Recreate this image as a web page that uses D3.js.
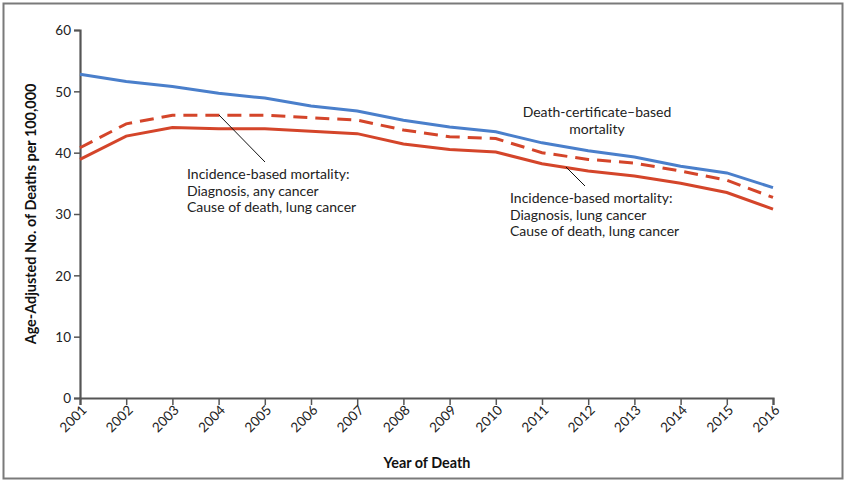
<!DOCTYPE html>
<html><head><meta charset="utf-8">
<script src="https://cdn.jsdelivr.net/npm/d3@7"></script>
<style>
html,body{margin:0;padding:0;background:#fff;}
svg{display:block;font-family:Lato,"Open Sans",sans-serif;}
</style></head>
<body>
<svg id="c" width="849" height="483"></svg>
<script>
const years = [2001,2002,2003,2004,2005,2006,2007,2008,2009,2010,2011,2012,2013,2014,2015,2016];
const deathCert = [52.8,51.6,50.8,49.7,48.9,47.6,46.8,45.3,44.2,43.4,41.6,40.3,39.3,37.8,36.7,34.3];
const ibmAnyCancer = [40.8,44.7,46.1,46.1,46.1,45.7,45.3,43.7,42.6,42.3,40.0,38.9,38.3,37.0,35.5,32.7];
const ibmLungCancer = [38.9,42.7,44.1,43.9,43.9,43.5,43.1,41.4,40.5,40.1,38.2,37.0,36.2,35.0,33.5,30.8];
const yTicks = [0,10,20,30,40,50,60];

const svg = d3.select("#c");
svg.append("rect").attr("x",3.5).attr("y",3.5).attr("width",839).attr("height",475)
  .attr("fill","none").attr("stroke","#7a7a7a").attr("stroke-width",2);

const x = d3.scaleLinear().domain([2001,2016]).range([80,773]);
const y = d3.scaleLinear().domain([0,60]).range([398,30]);

const axisColor = "#555";
const gy = svg.append("g").attr("transform","translate(80,0)")
  .call(d3.axisLeft(y).tickValues(yTicks).tickSize(6).tickPadding(3).tickFormat(d3.format("d")));
const gx = svg.append("g").attr("transform","translate(0,398)")
  .call(d3.axisBottom(x).tickValues(years).tickSize(7).tickFormat(d3.format("d")));
[gy,gx].forEach(g=>{
  g.select(".domain").attr("stroke",axisColor).attr("stroke-width",2.2);
  g.selectAll(".tick line").attr("stroke",axisColor).attr("stroke-width",1.5);
  g.selectAll("text").attr("fill","#222").style("font-size","13.5px").style("font-family","Lato, sans-serif");
});
gx.selectAll("text").attr("text-anchor","end").attr("dy",null).attr("y",0)
  .attr("transform","translate(7,13) rotate(-45)");
gy.selectAll("text").attr("dy","0.35em");

const line = d3.line().x((d,i)=>x(years[i])).y(d=>y(d));
svg.append("path").datum(deathCert).attr("d",line).attr("fill","none")
  .attr("stroke","#4a7fcb").attr("stroke-width",3);
svg.append("path").datum(ibmAnyCancer).attr("d",line).attr("fill","none")
  .attr("stroke","#d4452a").attr("stroke-width",3).attr("stroke-dasharray","14,8");
svg.append("path").datum(ibmLungCancer).attr("d",line).attr("fill","none")
  .attr("stroke","#d4452a").attr("stroke-width",3);

// Axis titles
svg.append("text").attr("transform","translate(36,214) rotate(-90)").attr("text-anchor","middle")
  .style("font-size","14.4px").style("font-weight","bold").attr("fill","#111")
  .text("Age-Adjusted No. of Deaths per 100,000");
svg.append("text").attr("x",427).attr("y",468).attr("text-anchor","middle")
  .style("font-size","14.4px").style("font-weight","bold").attr("fill","#111")
  .text("Year of Death");

// Annotations
function block(xp, y0, lines, anchor){
  const t = svg.append("text").attr("x",xp).attr("y",y0).attr("text-anchor",anchor||"start")
    .style("font-size","14px").attr("fill","#222");
  lines.forEach((s,i)=>t.append("tspan").attr("x",xp).attr("dy",i?16.5:0).text(s));
}
block(187,179,["Incidence-based mortality:","Diagnosis, any cancer","Cause of death, lung cancer"]);
block(510,203,["Incidence-based mortality:","Diagnosis, lung cancer","Cause of death, lung cancer"]);
block(597,117,["Death-certificate\u2013based","mortality"],"middle");

svg.append("line").attr("x1",219).attr("y1",115).attr("x2",265).attr("y2",162)
  .attr("stroke","#111").attr("stroke-width",1);
svg.append("line").attr("x1",566).attr("y1",167).attr("x2",585).attr("y2",186)
  .attr("stroke","#111").attr("stroke-width",1);
</script>
</body></html>
